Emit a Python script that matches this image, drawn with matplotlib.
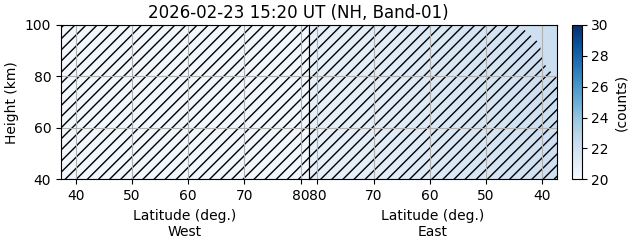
import numpy as np
import matplotlib
matplotlib.use("Agg")
import matplotlib.pyplot as plt

# ---- data ----
title = "2026-02-23 15:20 UT (NH, Band-01)"
lat_min, lat_max = 37.4, 81.5
height_nodes = [40, 100]
west_lat_nodes = [37.4, 81.5]
west_counts = [[20.35, 20.35],   # 40 km
               [20.35, 20.35]]   # 100 km
east_lat_nodes = [81.5, 70, 60, 50, 40, 37.4]
east_counts = [[20.75, 21.0, 21.3, 21.65, 22.0, 22.1],   # 40 km
               [20.75, 21.05, 21.4, 21.75, 22.15, 22.3]]  # 100 km
# hatched (masked) region boundary in East panel
east_mask_height = [40, 79.4, 81.3, 82.5, 84.8, 89.1, 93.0, 94.9, 97.3, 100]
east_mask_lat = [37.4, 37.4, 38.2, 38.9, 39.6, 40.2, 40.5, 41.6, 42.7, 44.4]
lat_ticks = [40, 50, 60, 70, 80]
height_ticks = [40, 60, 80, 100]
cbar_ticks = [20, 22, 24, 26, 28, 30]
vmin, vmax = 20, 30

W, H = 631, 243
fig = plt.figure(figsize=(W / 100, H / 100), dpi=100)
bot = (H - 179.3) / H
hgt = 154.3 / H
axw = fig.add_axes([61 / W, bot, 248 / W, hgt])
axe = fig.add_axes([309 / W, bot, 248 / W, hgt])
cax = fig.add_axes([572.3 / W, bot, 9.4 / W, hgt])

cmap = plt.get_cmap("Blues")
mw = axw.pcolormesh(west_lat_nodes, height_nodes, np.array(west_counts),
                    cmap=cmap, vmin=vmin, vmax=vmax, shading="gouraud", zorder=0)
me = axe.pcolormesh(east_lat_nodes, height_nodes, np.array(east_counts),
                    cmap=cmap, vmin=vmin, vmax=vmax, shading="gouraud", zorder=0)

# hatching
hatch = "///"
axw.fill_betweenx(height_nodes, [lat_min, lat_min], [lat_max, lat_max],
                  facecolor="none", edgecolor="black", hatch=hatch, linewidth=0, zorder=1)
axe.fill_betweenx(east_mask_height, east_mask_lat, [lat_max] * len(east_mask_lat),
                  facecolor="none", edgecolor="black", hatch=hatch, linewidth=0, zorder=1)

for ax in (axw, axe):
    ax.set_ylim(40, 100)
    ax.set_xticks(lat_ticks)
    ax.set_yticks(height_ticks)
    ax.grid(True, color="#b0b0b0", linewidth=0.8)
    ax.tick_params(labelsize=10)

axw.set_xlim(lat_min, lat_max)
axe.set_xlim(lat_max, lat_min)
axw.set_ylabel("Height (km)")
axe.tick_params(axis="y", left=False, labelleft=False)
axw.set_xlabel("Latitude (deg.)\nWest", linespacing=1.2)
axe.set_xlabel("Latitude (deg.)\nEast", linespacing=1.2)

cb = fig.colorbar(me, cax=cax, ticks=cbar_ticks)
cb.set_label("(counts)")

fig.text(298 / W, 1 - 18.5 / H, title, ha="center", va="baseline", fontsize=12)

fig.savefig("out.png", dpi=100)
